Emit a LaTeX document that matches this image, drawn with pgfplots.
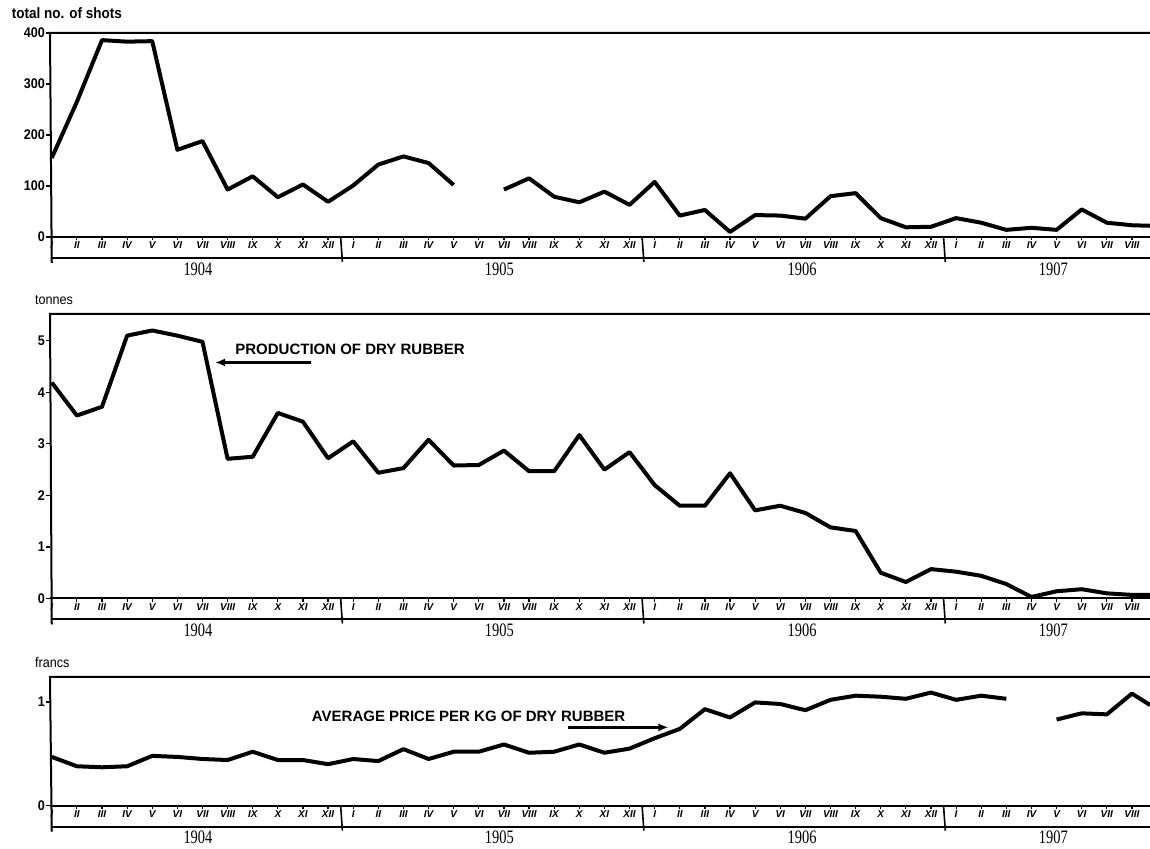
\documentclass[border=0pt]{standalone}
\usepackage{fontspec}
\setmainfont{Liberation Sans}
\newfontfamily\yearfont[FakeStretch=0.76]{Liberation Serif}
\newfontfamily\condfont[FakeStretch=0.9]{Liberation Sans}
\usepackage{pgfplots}
\pgfplotsset{compat=1.18}
\usetikzlibrary{arrows.meta}
\pgfplotsset{
  panel/.style={
    scale only axis, width=1100pt, xmin=-0.07, xmax=43.72, ymin=0,
    clip=false, axis line style={draw=none},
    tick pos=left, tick align=outside, major tick length=3.5pt,
    every tick/.style={black, line width=1.2pt},
    xtick={0,...,43},
    xticklabels={I,II,III,IV,V,VI,VII,VIII,IX,X,XI,XII,I,II,III,IV,V,VI,VII,VIII,IX,X,XI,XII,I,II,III,IV,V,VI,VII,VIII,IX,X,XI,XII,I,II,III,IV,V,VI,VII,VIII},
    xticklabel style={font=\fontsize{10}{10}\selectfont\bfseries\itshape, inner sep=1pt},
    yticklabel style={font=\condfont\fontsize{14}{14}\selectfont\bfseries, inner sep=1.5pt},
    /pgf/number format/assume math mode=true,
    unbounded coords=jump,
  },
  dataline/.style={black, line width=4pt, line join=round},
}
\newcommand\strip{%
  \draw[line width=2pt] (rel axis cs:0,0) ++(0,-26pt) -- (rel axis cs:0,1) -- (rel axis cs:1,1);
  \draw[line width=2pt] (rel axis cs:0,0) -- (rel axis cs:1,0);
  \draw[line width=2pt] (rel axis cs:0,0) ++(0,-21pt) -- ++(1100pt,0);
  \draw[line width=1.6pt] (axis cs:11.5,0) -- ++(0,-25pt);
  \draw[line width=1.6pt] (axis cs:23.5,0) -- ++(0,-25pt);
  \draw[line width=1.6pt] (axis cs:35.5,0) -- ++(0,-25pt);
  \path (axis cs:5.75,0) ++(0,-32pt) node[font=\yearfont\fontsize{19}{19}\selectfont]{1904};
  \path (axis cs:17.75,0) ++(0,-32pt) node[font=\yearfont\fontsize{19}{19}\selectfont]{1905};
  \path (axis cs:29.8,0) ++(0,-32pt) node[font=\yearfont\fontsize{19}{19}\selectfont]{1906};
  \path (axis cs:39.8,0) ++(0,-32pt) node[font=\yearfont\fontsize{19}{19}\selectfont]{1907};
}
\begin{document}
\begin{tikzpicture}
\useasboundingbox (0,0) rectangle (1150pt,848pt);
\node[anchor=base west, inner sep=0, font=\condfont\fontsize{15}{15}\selectfont\bfseries] at (11.7pt,829pt) {total no. of shots};
\node[anchor=base west, inner sep=0, font=\condfont\fontsize{14}{14}\selectfont] at (35pt,543pt) {tonnes};
\node[anchor=base west, inner sep=0, font=\condfont\fontsize{14}{14}\selectfont] at (35pt,180pt) {francs};

% Panel 1: shots
\begin{axis}[panel, at={(50pt,611pt)}, anchor=south west, height=204pt,
  ymax=400, ytick={0,100,200,300,400}]
\addplot[dataline] table[row sep=\\]{
x y\\ 0 155\\ 1 265\\ 2 386\\ 3 383\\ 4 384\\ 5 171\\ 6 188\\ 7 93\\ 8 119\\ 9 78\\ 10 103\\ 11 69\\
12 101\\ 13 142\\ 14 158\\ 15 145\\ 16 102\\ 17 nan\\ 18 93\\ 19 115\\ 20 79\\ 21 68\\ 22 89\\ 23 63\\
24 108\\ 25 42\\ 26 53\\ 27 10\\ 28 43\\ 29 42\\ 30 36\\ 31 80\\ 32 86\\ 33 37\\ 34 19\\ 35 20\\
36 37\\ 37 28\\ 38 14\\ 39 18\\ 40 14\\ 41 54\\ 42 28\\ 43 23\\ 43.72 22\\
};
\strip
\end{axis}

% Panel 2: tonnes
\begin{axis}[panel, at={(50pt,249.5pt)}, anchor=south west, height=284.5pt,
  ymax=5.52, ytick={0,1,2,3,4,5}]
\addplot[dataline] table[row sep=\\]{
x y\\ 0 4.19\\ 1 3.55\\ 2 3.72\\ 3 5.10\\ 4 5.20\\ 5 5.10\\ 6 4.98\\ 7 2.71\\ 8 2.75\\ 9 3.60\\ 10 3.43\\ 11 2.72\\
12 3.05\\ 13 2.44\\ 14 2.53\\ 15 3.08\\ 16 2.58\\ 17 2.59\\ 18 2.87\\ 19 2.47\\ 20 2.47\\ 21 3.17\\ 22 2.50\\ 23 2.84\\
24 2.20\\ 25 1.80\\ 26 1.80\\ 27 2.43\\ 28 1.71\\ 29 1.80\\ 30 1.66\\ 31 1.38\\ 32 1.31\\ 33 0.50\\ 34 0.32\\ 35 0.57\\
36 0.52\\ 37 0.44\\ 38 0.28\\ 39 0.03\\ 40 0.14\\ 41 0.18\\ 42 0.10\\ 43 0.07\\ 43.72 0.07\\
};
\strip
\node[anchor=base west, inner sep=0, font=\fontsize{15}{15}\selectfont\bfseries] at (axis cs:7.3,4.73) {PRODUCTION OF DRY RUBBER};
\draw[line width=2.5pt, -{Latex[length=10pt,width=8pt]}] (axis cs:10.3,4.58) -- (axis cs:6.5,4.58);
\end{axis}

% Panel 3: francs
\begin{axis}[panel, at={(50pt,42.3pt)}, anchor=south west, height=128.7pt,
  ymax=1.24, ytick={0,1}]
\addplot[dataline] table[row sep=\\]{
x y\\ 0 0.47\\ 1 0.38\\ 2 0.37\\ 3 0.38\\ 4 0.48\\ 5 0.47\\ 6 0.45\\ 7 0.44\\ 8 0.52\\ 9 0.44\\ 10 0.44\\ 11 0.40\\
12 0.45\\ 13 0.43\\ 14 0.545\\ 15 0.45\\ 16 0.52\\ 17 0.52\\ 18 0.59\\ 19 0.51\\ 20 0.52\\ 21 0.59\\ 22 0.51\\ 23 0.55\\
24 0.65\\ 25 0.74\\ 26 0.93\\ 27 0.85\\ 28 0.995\\ 29 0.98\\ 30 0.92\\ 31 1.02\\ 32 1.06\\ 33 1.05\\ 34 1.03\\ 35 1.09\\
36 1.02\\ 37 1.06\\ 38 1.03\\ 39 nan\\ 40 0.83\\ 41 0.89\\ 42 0.88\\ 43 1.08\\ 43.72 0.97\\
};
\strip
\node[anchor=base west, inner sep=0, font=\fontsize{15}{15}\selectfont\bfseries] at (axis cs:10.35,0.81) {AVERAGE PRICE PER KG OF DRY RUBBER};
\draw[line width=2.5pt, -{Latex[length=10pt,width=8pt]}] (axis cs:20.55,0.755) -- (axis cs:24.55,0.755);
\end{axis}
\end{tikzpicture}
\end{document}
